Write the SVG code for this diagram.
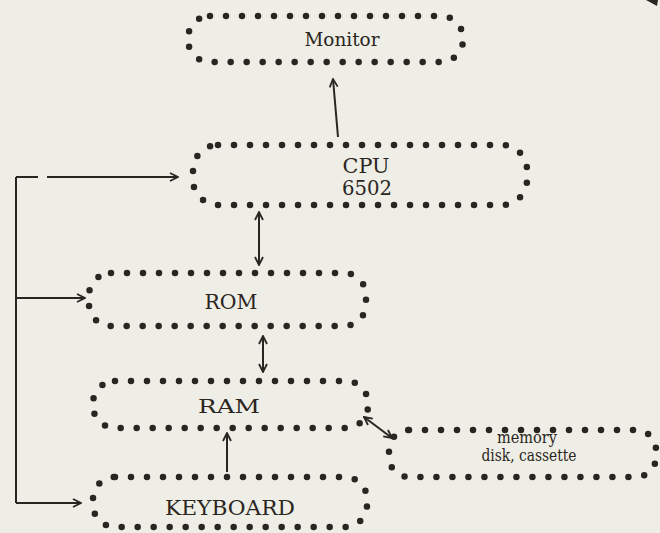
<svg xmlns="http://www.w3.org/2000/svg" width="660" height="533" viewBox="0 0 660 533">
<defs>
<style>
.box{fill:none;stroke:#2b2521;stroke-width:6.5;stroke-linecap:round;stroke-dasharray:0 16}
.ln{fill:none;stroke:#2b2521;stroke-width:2}
.t{font-family:"DejaVu Serif","Liberation Serif",serif;fill:#2b2521;text-anchor:middle}
</style>
<marker id="ah" viewBox="0 0 10 10" refX="9" refY="5" markerWidth="10" markerHeight="10" markerUnits="userSpaceOnUse" orient="auto-start-reverse">
<path d="M1,1 L9,5 L1,9" fill="none" stroke="#2b2521" stroke-width="1.8"/>
</marker>
</defs>
<rect width="660" height="533" fill="#eeeee6"/>
<polygon points="646,0 658,0 657,6" fill="#2b2521"/>
<g id="connectors">
<path class="ln" d="M338,137 L333,79" marker-end="url(#ah)"/>
<path class="ln" d="M16,177 L16,503"/>
<path class="ln" d="M16,177 L38,177"/>
<path class="ln" d="M47,177 L178,177" marker-end="url(#ah)"/>
<path class="ln" d="M16,298 L85,298" marker-end="url(#ah)"/>
<path class="ln" d="M16,503 L81,503" marker-end="url(#ah)"/>
<path class="ln" d="M259,212 L259,265" marker-start="url(#ah)" marker-end="url(#ah)"/>
<path class="ln" d="M263,336 L263,372" marker-start="url(#ah)" marker-end="url(#ah)"/>
<path class="ln" d="M227,472 L227,433" marker-end="url(#ah)"/>
<path class="ln" d="M364,417 L392,438" marker-start="url(#ah)" marker-end="url(#ah)"/>
</g>
<g id="monitor">
<rect class="box" x="188" y="16" width="275" height="46" rx="22"/>
<text class="t" x="342" y="46" font-size="18" textLength="75" lengthAdjust="spacingAndGlyphs">Monitor</text>
</g>
<g id="cpu">
<rect class="box" x="193" y="145" width="334" height="60" rx="25"/>
<text class="t" x="366" y="173" font-size="21" textLength="47" lengthAdjust="spacingAndGlyphs">CPU</text>
<text class="t" x="367" y="195" font-size="21" textLength="50" lengthAdjust="spacingAndGlyphs">6502</text>
</g>
<g id="rom">
<rect class="box" x="89" y="273" width="277" height="53" rx="22"/>
<text class="t" x="231" y="309" font-size="21" textLength="53" lengthAdjust="spacingAndGlyphs">ROM</text>
</g>
<g id="ram">
<rect class="box" x="93" y="381" width="275" height="47" rx="22"/>
<text class="t" x="229" y="413" font-size="19" textLength="62" lengthAdjust="spacingAndGlyphs">RAM</text>
</g>
<g id="keyboard">
<rect class="box" x="93" y="477" width="274" height="50" rx="22"/>
<text class="t" x="230" y="515" font-size="20" textLength="130" lengthAdjust="spacingAndGlyphs">KEYBOARD</text>
</g>
<g id="memory">
<rect class="box" x="389" y="430" width="267" height="47" rx="20"/>
<text class="t" x="527" y="443" font-size="16" textLength="60" lengthAdjust="spacingAndGlyphs">memory</text>
<text class="t" x="529" y="461" font-size="16" textLength="95" lengthAdjust="spacingAndGlyphs">disk, cassette</text>
</g>
</svg>
